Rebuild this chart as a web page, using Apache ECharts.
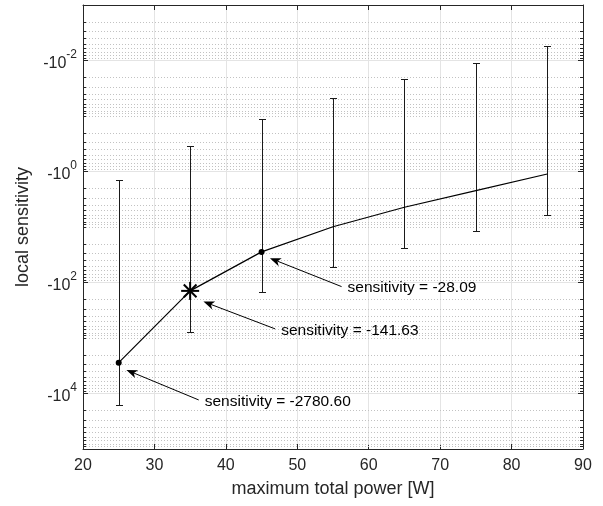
<!DOCTYPE html>
<html><head><meta charset="utf-8">
<script src="https://cdn.jsdelivr.net/npm/echarts@6/dist/echarts.min.js"></script>
<style>html,body{margin:0;padding:0;background:#fff}#c{width:603px;height:506px}</style>
</head><body><div id="c"></div>
<script>
// ---- data ----
const power = [25, 35, 45, 55, 65, 75, 85];
const sensitivity = [-2780.60, -141.63, -28.09, -9.9, -4.41, -2.21, -1.11];
const errNear = [-1.44, -0.341, -0.1125, -0.047, -0.0214, -0.01087, -0.00542];
const errFar = [-16440, -793, -150.6, -52.0, -23.6, -11.8, -6.15];
const xTicks = [20, 30, 40, 50, 60, 70, 80, 90];
const yTickExponents = [-2, 0, 2, 4];
const yLimits = [-1e-3, -1e5];
const markerKinds = ['dot', 'star', 'dot', null, null, null, null];
const annotationIndex = [0, 1, 2];
const annotationText = ['sensitivity = -2780.60', 'sensitivity = -141.63', 'sensitivity = -28.09'];

// ---- layout / style ----
const annotationLayout = [
  {head: [7.7, 7.3], tail: [80, 37.3]},
  {head: [13.3, 10.7], tail: [85, 38]},
  {head: [8.4, 6.3], tail: [80, 34.7]}
];
const FONT = '"Liberation Sans", Arial, Helvetica, sans-serif';
const AX = '#262626';
const GRID = '#e4e4e4';
const MINOR = '#c2c2c2';

const chart = echarts.init(document.getElementById('c'), null, {renderer: 'canvas'});

// minor log grid positions (axis decoration, not data)
const minorValues = [];
const dLo = Math.round(Math.log10(-yLimits[0])), dHi = Math.round(Math.log10(-yLimits[1]));
for (let d = dLo; d < dHi; d++) {
  for (let k = 1; k <= 9; k++) {
    if (k === 1 && (d === dLo || yTickExponents.includes(d))) continue;
    minorValues.push(k * Math.pow(10, d));
  }
}
const crisp = v => Math.round(v) + 0.5;

const xMin = xTicks[0], xMax = xTicks[xTicks.length - 1];

function yAxisBase(pos) {
  return {
    type: 'log', logBase: 100, min: -yLimits[0], max: -yLimits[1], inverse: true,
    position: pos,
    axisLine: {show: true, lineStyle: {color: AX, width: 1}},
    axisTick: {show: true, inside: true, length: 5, lineStyle: {color: AX}},
    splitLine: {show: false},
    axisLabel: {show: false}
  };
}

const left = yAxisBase('left');
left.splitLine = {show: true, lineStyle: {color: GRID, width: 1}};
left.axisLabel = {
  show: true, showMinLabel: false, showMaxLabel: false, margin: 6,
  formatter: v => '{b|-10}{s|' + Math.round(Math.log10(v)) + '}',
  rich: {
    b: {fontSize: 16, fontFamily: FONT, color: AX, lineHeight: 23, verticalAlign: 'bottom'},
    s: {fontSize: 12, fontFamily: FONT, color: AX, lineHeight: 12, verticalAlign: 'top'}
  }
};
left.name = 'local sensitivity';
left.nameLocation = 'middle';
left.nameGap = 50;
left.nameTextStyle = {fontSize: 18, fontFamily: FONT, color: AX};

const option = {
  animation: false,
  backgroundColor: '#fff',
  grid: {left: 83, right: 20, top: 5, bottom: 57},
  xAxis: [
    {
      type: 'value', min: xMin, max: xMax, interval: 10, position: 'bottom',
      axisLine: {lineStyle: {color: AX, width: 1}},
      axisTick: {inside: true, length: 5, lineStyle: {color: AX}},
      axisLabel: {color: AX, fontSize: 16, fontFamily: FONT, margin: 9,
        formatter: v => String(xTicks[xTicks.indexOf(v)])},
      splitLine: {show: true, lineStyle: {color: GRID, width: 1}},
      name: 'maximum total power [W]', nameLocation: 'middle', nameGap: 31,
      nameTextStyle: {fontSize: 18, fontFamily: FONT, color: AX}
    },
    {
      type: 'value', min: xMin, max: xMax, interval: 10, position: 'top',
      axisLine: {show: true, lineStyle: {color: AX, width: 1}},
      axisTick: {show: true, inside: true, length: 5, lineStyle: {color: AX}},
      axisLabel: {show: false}, splitLine: {show: false}
    }
  ],
  yAxis: [left, yAxisBase('right')],
  series: [
    {
      type: 'custom', name: 'minorGrid', z: 1, silent: true,
      xAxisIndex: 0, yAxisIndex: 0,
      data: minorValues.map(v => [xMin, v]),
      encode: {x: 0, y: 1},
      renderItem: (params, api) => {
        const v = api.value(1);
        const pl = api.coord([xMin, v]), pr = api.coord([xMax, v]);
        const y = crisp(pl[1]);
        return {type: 'group', children: [
          {type: 'line', shape: {x1: pl[0], y1: y, x2: pr[0], y2: y},
            style: {stroke: MINOR, lineWidth: 1, lineDash: [1, 2]}},
          {type: 'line', shape: {x1: pl[0], y1: y, x2: pl[0] + 3, y2: y},
            style: {stroke: AX, lineWidth: 1}},
          {type: 'line', shape: {x1: pr[0] - 3, y1: y, x2: pr[0], y2: y},
            style: {stroke: AX, lineWidth: 1}}
        ]};
      }
    },
    {
      type: 'custom', name: 'errorbars', z: 3,
      data: power.map((x, i) => [x, -errNear[i], -errFar[i]]),
      encode: {x: 0, y: [1, 2]},
      renderItem: (params, api) => {
        const x = api.value(0);
        const p1 = api.coord([x, api.value(1)]), p2 = api.coord([x, api.value(2)]);
        const cx = crisp(p1[0]), y1 = crisp(p1[1]), y2 = crisp(p2[1]);
        const st = {stroke: '#1a1a1a', lineWidth: 1};
        return {type: 'group', children: [
          {type: 'line', shape: {x1: cx, y1: y1, x2: cx, y2: y2}, style: st},
          {type: 'line', shape: {x1: cx - 3.5, y1: y1, x2: cx + 3.5, y2: y1}, style: st},
          {type: 'line', shape: {x1: cx - 3.5, y1: y2, x2: cx + 3.5, y2: y2}, style: st}
        ]};
      }
    },
    {
      type: 'line', name: 'sensitivity', z: 4,
      data: power.map((x, i) => [x, -sensitivity[i]]),
      showSymbol: false, symbol: 'none',
      lineStyle: {color: '#000', width: 1.2}
    },
    {
      type: 'custom', name: 'markers', z: 5,
      data: power.map((x, i) => [x, -sensitivity[i], i]).filter(d => markerKinds[d[2]]),
      encode: {x: 0, y: 1},
      renderItem: (params, api) => {
        const p = api.coord([api.value(0), api.value(1)]);
        const kind = markerKinds[api.value(2)];
        if (kind === 'dot') {
          return {type: 'circle', shape: {cx: p[0], cy: p[1], r: 3}, style: {fill: '#000'}};
        }
        const r = 9, rd = r * 0.707;
        const st = {stroke: '#000', lineWidth: 2};
        return {type: 'group', children: [
          {type: 'line', shape: {x1: p[0] - r, y1: p[1], x2: p[0] + r, y2: p[1]}, style: st},
          {type: 'line', shape: {x1: p[0], y1: p[1] - r, x2: p[0], y2: p[1] + r}, style: st},
          {type: 'line', shape: {x1: p[0] - rd, y1: p[1] - rd, x2: p[0] + rd, y2: p[1] + rd}, style: st},
          {type: 'line', shape: {x1: p[0] - rd, y1: p[1] + rd, x2: p[0] + rd, y2: p[1] - rd}, style: st}
        ]};
      }
    },
    {
      type: 'custom', name: 'annotations', z: 6,
      data: annotationIndex.map((idx, j) => [power[idx], -sensitivity[idx], j]),
      encode: {x: 0, y: 1},
      renderItem: (params, api) => {
        const p = api.coord([api.value(0), api.value(1)]);
        const j = api.value(2);
        const L = annotationLayout[j];
        const T = [p[0] + L.head[0], p[1] + L.head[1]];
        const S = [p[0] + L.tail[0], p[1] + L.tail[1]];
        const dx = T[0] - S[0], dy = T[1] - S[1];
        const len = Math.hypot(dx, dy);
        const u = [dx / len, dy / len], n = [-u[1], u[0]];
        const AL = 11, AW = 4.2, NOTCH = 3;
        const B1 = [T[0] - u[0] * AL + n[0] * AW, T[1] - u[1] * AL + n[1] * AW];
        const B2 = [T[0] - u[0] * AL - n[0] * AW, T[1] - u[1] * AL - n[1] * AW];
        const N = [T[0] - u[0] * (AL - NOTCH), T[1] - u[1] * (AL - NOTCH)];
        return {type: 'group', children: [
          {type: 'line', shape: {x1: S[0], y1: S[1], x2: N[0], y2: N[1]}, style: {stroke: '#000', lineWidth: 1}},
          {type: 'polygon', shape: {points: [T, B1, N, B2]}, style: {fill: '#000'}},
          {type: 'text', style: {text: annotationText[j], x: S[0] + 6, y: S[1] + 1.5,
            fill: '#000', font: '15.5px ' + FONT, align: 'left', verticalAlign: 'middle'}}
        ]};
      }
    }
  ]
};
chart.setOption(option);
</script>
</body></html>
